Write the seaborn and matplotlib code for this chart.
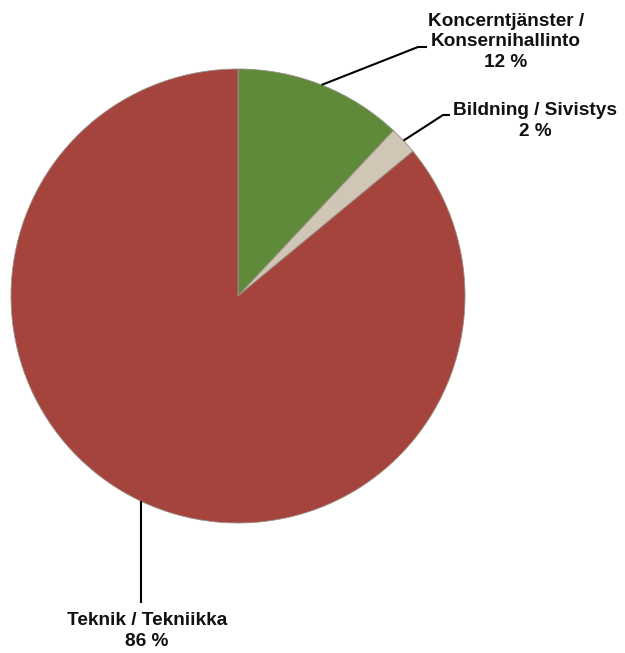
import numpy as np
import matplotlib
matplotlib.use("Agg")
import matplotlib.pyplot as plt
import seaborn as sns

# Data
categories = ["Koncerntjänster /\nKonsernihallinto", "Bildning / Sivistys", "Teknik / Tekniikka"]
values = [12, 2, 86]
colors = ["#5f8a3a", "#cfc6b6", "#a4443d"]

sns.set_theme(style="white")
plt.rcParams['font.family'] = ['Liberation Sans', 'DejaVu Sans']

W, H = 625, 653
fig = plt.figure(figsize=(W / 100, H / 100), dpi=100)
ax = fig.add_axes([0, 0, 1, 1])

cx, cy, r = 238, H - 296, 227
wedges, _ = ax.pie(values, colors=colors, startangle=90, counterclock=False,
                   center=(cx, cy), radius=r, frame=True,
                   wedgeprops=dict(edgecolor="#9a8f85", linewidth=0.6))
ax.set_xlim(0, W)
ax.set_ylim(0, H)
ax.set_aspect("equal")
ax.axis("off")

# label positions (text centre) and leader elbow points (pixel coords, y from top;
# None for x means straight vertical from the wedge anchor)
label_pos = [(506, 42), (535, 121), (147, 631)]
elbows = [[(418, 47), (427, 47)], [(443, 115), (450, 115)], [(None, 603)]]

for w, cat, v, (tx, ty), elb in zip(wedges, categories, values, label_pos, elbows):
    ang = np.deg2rad((w.theta1 + w.theta2) / 2)
    sx, sy = cx + r * np.cos(ang), cy + r * np.sin(ang)
    xs = [sx] + [sx if e[0] is None else e[0] for e in elb]
    ys = [sy] + [H - e[1] for e in elb]
    ax.plot(xs, ys, color="black", lw=1.5, solid_capstyle="butt")
    ax.text(tx, H - ty, f"{cat}\n{v} %", ha="center", va="center",
            fontsize=13.7, fontweight="bold", linespacing=1.25, color="#111111")

fig.savefig("out.png", dpi=100, facecolor="white")
